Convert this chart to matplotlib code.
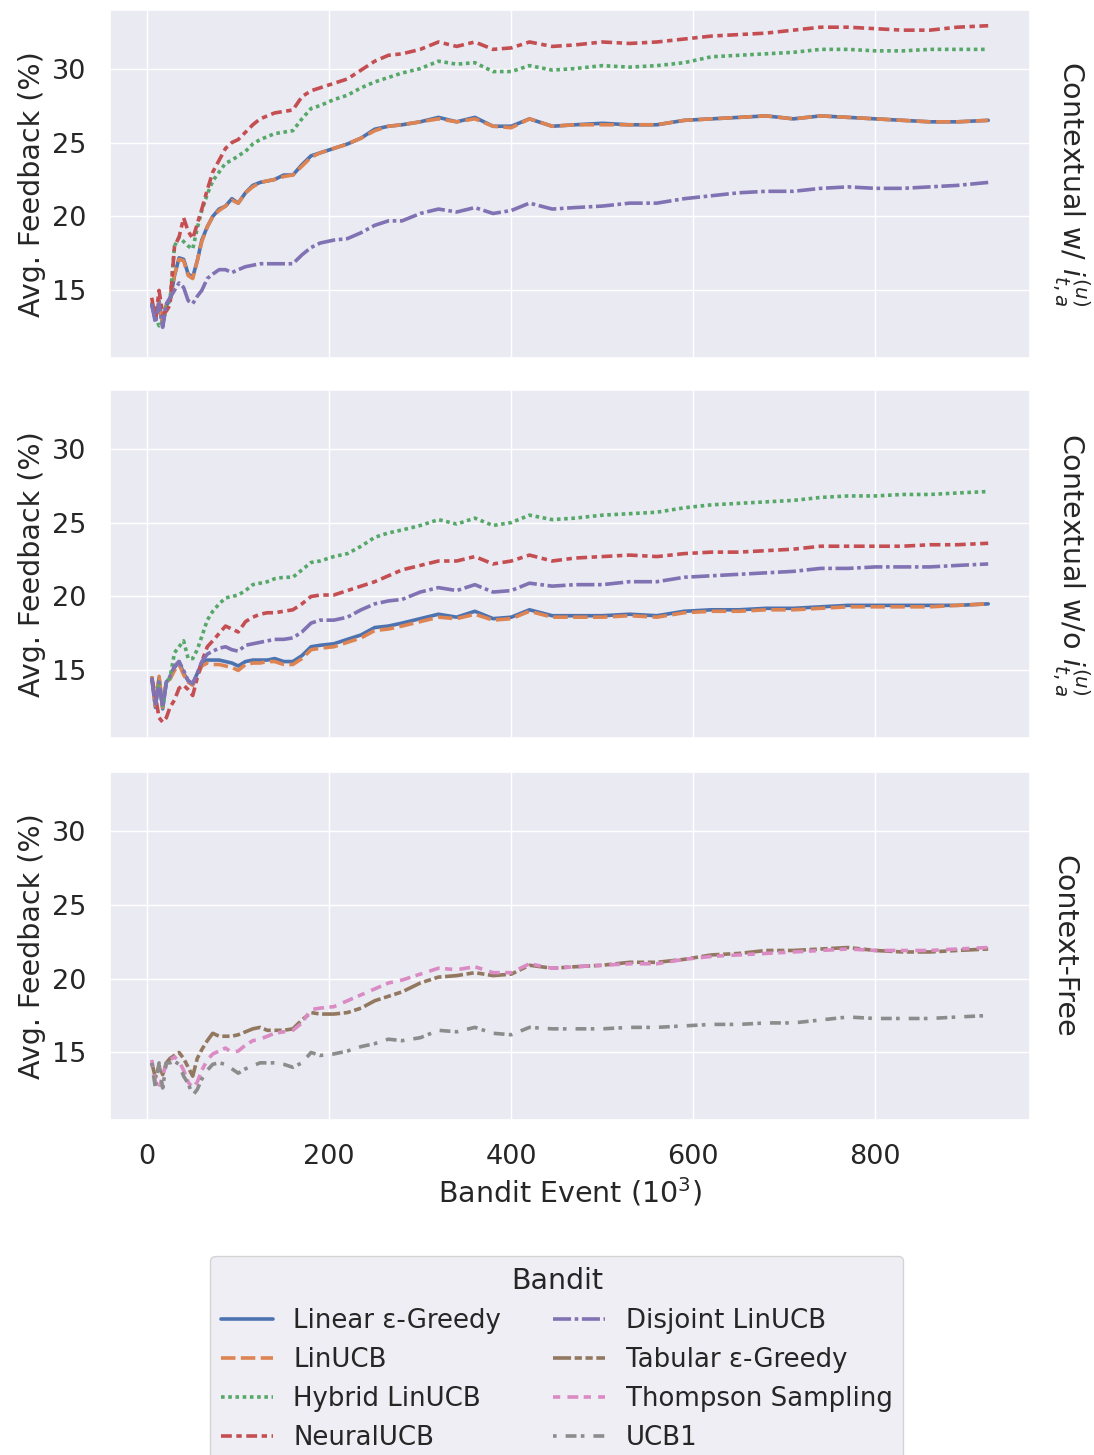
import matplotlib
matplotlib.use("Agg")
import matplotlib.pyplot as plt
import seaborn as sns

# Bandit event (in thousands)
events = [5, 9, 13, 17, 21, 25, 30, 35, 40, 45, 50, 55, 60, 66, 72, 79, 86, 93, 100, 108,
          116, 124, 132, 140, 150, 160, 170, 180, 190, 205, 220, 235, 250, 265, 280, 300, 320, 340, 360, 380,
          400, 420, 445, 470, 500, 530, 560, 590, 620, 650, 680, 710, 740, 770, 800, 830, 860, 890, 924]

bandits = ["Linear ε-Greedy", "LinUCB", "Hybrid LinUCB", "NeuralUCB",
           "Disjoint LinUCB", "Tabular ε-Greedy", "Thompson Sampling", "UCB1"]

row_titles = ["Contextual w/ $i^{(u)}_{t,a}$", "Contextual w/o $i^{(u)}_{t,a}$", "Context-Free"]

# --- Contextual w/ i ---
w_linear_greedy = [14.0, 13.0, 14.3, 12.6, 14.0, 14.3, 16.0, 17.2, 17.1, 16.1, 15.9, 17.0, 18.4, 19.3, 20.0, 20.5, 20.7, 21.2, 20.9, 21.6,
                   22.1, 22.3, 22.4, 22.5, 22.8, 22.8, 23.5, 24.1, 24.3, 24.6, 24.9, 25.3, 25.9, 26.1, 26.2, 26.4, 26.7, 26.4, 26.7, 26.1,
                   26.1, 26.6, 26.1, 26.2, 26.3, 26.2, 26.2, 26.5, 26.6, 26.7, 26.8, 26.6, 26.8, 26.7, 26.6, 26.5, 26.4, 26.4, 26.5]
w_linucb = [14.1, 13.1, 14.2, 12.7, 14.0, 14.3, 16.1, 17.1, 17.0, 16.0, 15.8, 17.0, 18.3, 19.3, 20.0, 20.4, 20.7, 21.1, 20.9, 21.6,
            22.0, 22.3, 22.4, 22.5, 22.7, 22.8, 23.4, 24.0, 24.3, 24.6, 24.9, 25.3, 25.8, 26.1, 26.2, 26.4, 26.6, 26.4, 26.6, 26.1,
            26.0, 26.6, 26.1, 26.2, 26.2, 26.2, 26.2, 26.5, 26.6, 26.7, 26.8, 26.6, 26.8, 26.7, 26.6, 26.5, 26.4, 26.4, 26.5]
w_hybrid = [14.2, 13.2, 12.6, 12.8, 14.0, 14.3, 18.0, 18.6, 18.3, 18.0, 17.8, 19.2, 20.4, 21.5, 22.4, 23.0, 23.6, 23.8, 24.1, 24.4,
            24.9, 25.2, 25.4, 25.6, 25.7, 25.8, 26.6, 27.3, 27.5, 27.9, 28.2, 28.7, 29.1, 29.4, 29.7, 30.0, 30.5, 30.3, 30.4, 29.8,
            29.8, 30.2, 29.9, 30.0, 30.2, 30.1, 30.2, 30.4, 30.8, 30.9, 31.0, 31.1, 31.3, 31.3, 31.2, 31.2, 31.3, 31.3, 31.3]
w_neural = [14.5, 13.0, 15.0, 13.4, 13.6, 14.0, 18.0, 18.6, 19.9, 19.0, 18.5, 19.5, 20.5, 21.8, 23.0, 23.8, 24.6, 25.0, 25.2, 25.7,
            26.2, 26.6, 26.8, 27.0, 27.1, 27.2, 28.1, 28.5, 28.7, 29.0, 29.3, 29.9, 30.5, 30.9, 31.0, 31.3, 31.8, 31.5, 31.8, 31.3,
            31.4, 31.8, 31.5, 31.6, 31.8, 31.7, 31.8, 32.0, 32.2, 32.3, 32.4, 32.6, 32.8, 32.8, 32.7, 32.6, 32.6, 32.8, 32.9]
w_disjoint = [14.1, 12.8, 14.1, 12.5, 14.1, 14.5, 15.0, 15.5, 15.2, 14.3, 14.1, 14.6, 15.0, 15.8, 16.1, 16.4, 16.4, 16.2, 16.4, 16.6,
              16.7, 16.8, 16.8, 16.8, 16.8, 16.8, 17.4, 17.9, 18.2, 18.4, 18.5, 18.9, 19.4, 19.7, 19.7, 20.2, 20.5, 20.3, 20.6, 20.2,
              20.4, 20.9, 20.5, 20.6, 20.7, 20.9, 20.9, 21.2, 21.4, 21.6, 21.7, 21.7, 21.9, 22.0, 21.9, 21.9, 22.0, 22.1, 22.3]

# --- Contextual w/o i ---
wo_linear_greedy = [14.5, 12.5, 14.5, 12.4, 14.2, 14.5, 15.2, 15.6, 14.8, 14.3, 14.1, 14.8, 15.5, 15.7, 15.7, 15.7, 15.6, 15.5, 15.3, 15.6,
                    15.7, 15.7, 15.7, 15.8, 15.6, 15.6, 16.0, 16.6, 16.7, 16.8, 17.1, 17.4, 17.9, 18.0, 18.2, 18.5, 18.8, 18.6, 19.0, 18.5,
                    18.6, 19.1, 18.7, 18.7, 18.7, 18.8, 18.7, 19.0, 19.1, 19.1, 19.2, 19.2, 19.3, 19.4, 19.4, 19.4, 19.4, 19.4, 19.5]
wo_linucb = [14.6, 12.6, 14.6, 12.5, 14.3, 14.4, 15.0, 15.4, 14.7, 14.2, 14.0, 14.6, 15.3, 15.5, 15.4, 15.4, 15.3, 15.2, 15.0, 15.4,
             15.5, 15.5, 15.6, 15.6, 15.4, 15.4, 15.8, 16.4, 16.5, 16.6, 16.9, 17.2, 17.7, 17.8, 18.0, 18.3, 18.6, 18.5, 18.8, 18.4,
             18.5, 19.0, 18.6, 18.6, 18.6, 18.7, 18.6, 18.9, 19.0, 19.0, 19.1, 19.1, 19.2, 19.3, 19.3, 19.3, 19.3, 19.4, 19.5]
wo_hybrid = [14.5, 12.9, 14.2, 12.6, 14.2, 14.5, 16.2, 16.6, 17.0, 15.8, 15.8, 16.4, 17.3, 18.4, 19.0, 19.5, 19.9, 20.0, 20.1, 20.4,
             20.8, 20.9, 21.0, 21.2, 21.3, 21.3, 21.8, 22.3, 22.4, 22.7, 22.9, 23.4, 24.0, 24.3, 24.5, 24.8, 25.2, 24.9, 25.3, 24.8,
             25.0, 25.5, 25.2, 25.3, 25.5, 25.6, 25.7, 26.0, 26.2, 26.3, 26.4, 26.5, 26.7, 26.8, 26.8, 26.9, 26.9, 27.0, 27.1]
wo_neural = [14.5, 13.3, 11.8, 11.5, 11.8, 12.5, 13.0, 13.8, 14.0, 13.7, 13.3, 14.5, 15.6, 16.6, 17.0, 17.5, 18.0, 17.8, 17.6, 18.3,
             18.6, 18.8, 18.9, 18.9, 19.0, 19.1, 19.5, 20.0, 20.1, 20.1, 20.4, 20.7, 21.0, 21.4, 21.8, 22.1, 22.4, 22.4, 22.7, 22.2,
             22.4, 22.8, 22.4, 22.6, 22.7, 22.8, 22.7, 22.9, 23.0, 23.0, 23.1, 23.2, 23.4, 23.4, 23.4, 23.4, 23.5, 23.5, 23.6]
wo_disjoint = [14.5, 12.6, 14.2, 12.5, 14.2, 14.6, 15.3, 15.6, 15.0, 14.3, 14.1, 14.8, 15.6, 16.1, 16.3, 16.5, 16.6, 16.4, 16.3, 16.7,
               16.8, 16.9, 17.0, 17.1, 17.1, 17.2, 17.6, 18.2, 18.4, 18.4, 18.6, 19.1, 19.5, 19.7, 19.8, 20.3, 20.6, 20.4, 20.8, 20.3,
               20.4, 20.9, 20.7, 20.8, 20.8, 21.0, 21.0, 21.3, 21.4, 21.5, 21.6, 21.7, 21.9, 21.9, 22.0, 22.0, 22.0, 22.1, 22.2]

# --- Context-free ---
cf_tabular = [14.3, 13.3, 14.1, 13.5, 14.3, 14.6, 14.8, 15.0, 14.6, 14.0, 13.4, 14.6, 15.2, 15.8, 16.3, 16.1, 16.1, 16.1, 16.2, 16.4,
              16.6, 16.7, 16.5, 16.5, 16.5, 16.6, 17.2, 17.7, 17.6, 17.6, 17.7, 18.0, 18.5, 18.8, 19.1, 19.7, 20.1, 20.2, 20.4, 20.2,
              20.3, 20.9, 20.7, 20.8, 20.9, 21.1, 21.1, 21.3, 21.6, 21.7, 21.9, 21.9, 22.0, 22.1, 21.9, 21.8, 21.8, 21.9, 22.0]
cf_thompson = [14.5, 13.0, 12.6, 13.4, 14.3, 14.5, 14.7, 14.4, 13.8, 13.0, 12.6, 13.0, 13.8, 14.5, 14.9, 15.1, 15.3, 15.0, 15.1, 15.5,
               15.8, 15.9, 16.1, 16.3, 16.4, 16.5, 17.0, 17.9, 18.0, 18.1, 18.5, 18.9, 19.3, 19.7, 19.9, 20.3, 20.7, 20.6, 20.8, 20.4,
               20.4, 21.0, 20.7, 20.8, 20.9, 21.0, 21.0, 21.3, 21.5, 21.6, 21.7, 21.8, 21.9, 22.0, 21.9, 21.9, 21.9, 22.0, 22.1]
cf_ucb1 = [14.3, 12.6, 14.3, 12.6, 14.3, 14.3, 14.4, 14.2, 13.4, 12.9, 12.1, 12.5, 13.2, 13.8, 14.2, 14.3, 14.2, 13.9, 13.6, 13.9,
           14.1, 14.3, 14.3, 14.3, 14.2, 14.0, 14.3, 15.0, 14.8, 14.9, 15.1, 15.4, 15.6, 15.9, 15.8, 16.0, 16.5, 16.4, 16.7, 16.3,
           16.2, 16.7, 16.6, 16.6, 16.6, 16.7, 16.7, 16.8, 16.9, 16.9, 17.0, 17.0, 17.2, 17.4, 17.3, 17.3, 17.3, 17.4, 17.5]

panels = [
    {"Linear ε-Greedy": w_linear_greedy, "LinUCB": w_linucb, "Hybrid LinUCB": w_hybrid,
     "NeuralUCB": w_neural, "Disjoint LinUCB": w_disjoint},
    {"Linear ε-Greedy": wo_linear_greedy, "LinUCB": wo_linucb, "Hybrid LinUCB": wo_hybrid,
     "NeuralUCB": wo_neural, "Disjoint LinUCB": wo_disjoint},
    {"Tabular ε-Greedy": cf_tabular, "Thompson Sampling": cf_thompson, "UCB1": cf_ucb1},
]

sns.set_theme(style="darkgrid")
plt.rcParams['font.family'] = ['DejaVu Sans']

colors = dict(zip(bandits, sns.color_palette("deep", 8)))
# seaborn's default dash sequence
dash_list = ["", (4, 1.5), (1, 1), (3, 1.25, 1.5, 1.25), (5, 1, 1, 1),
             (5, 1, 2, 1, 2, 1), (2, 2, 3, 1.5), (1, 2.5, 3, 1.2)]
dashes = dict(zip(bandits, dash_list))

fig = plt.figure(figsize=(10.94, 14.55), dpi=100)
axes = []
bottoms = [0.754, 0.4928, 0.2302]
handles = {}
for i, (series, title) in enumerate(zip(panels, row_titles)):
    ax = fig.add_axes([0.1005, bottoms[i], 0.841, 0.2392], sharex=axes[0] if axes else None,
                      sharey=axes[0] if axes else None)
    axes.append(ax)
    for name in bandits:
        if name not in series:
            continue
        line, = ax.plot(events, series[name], color=colors[name], lw=2.6, label=name)
        if dashes[name]:
            line.set_dashes(dashes[name])
        handles[name] = line
    ax.set_ylabel("Avg. Feedback (%)", fontsize=20.5)
    ax.tick_params(labelsize=19.5, pad=11)
    ax.text(1.022, 0.5, title, transform=ax.transAxes, rotation=270, va="center", ha="left",
            fontsize=20.5)
    if i < 2:
        ax.tick_params(labelbottom=False)

axes[0].set_yticks([15, 20, 25, 30])
axes[0].set_xticks([0, 200, 400, 600, 800])
axes[-1].set_xlabel("Bandit Event ($10^3$)", fontsize=20.5)

fig.legend([handles[b] for b in bandits], bandits, title="Bandit", loc="upper center",
           bbox_to_anchor=(0.509, 0.1455), ncol=2, fontsize=18.7, title_fontsize=20.5,
           handlelength=2.0, columnspacing=2.0)

fig.savefig("out.png", dpi=100)
